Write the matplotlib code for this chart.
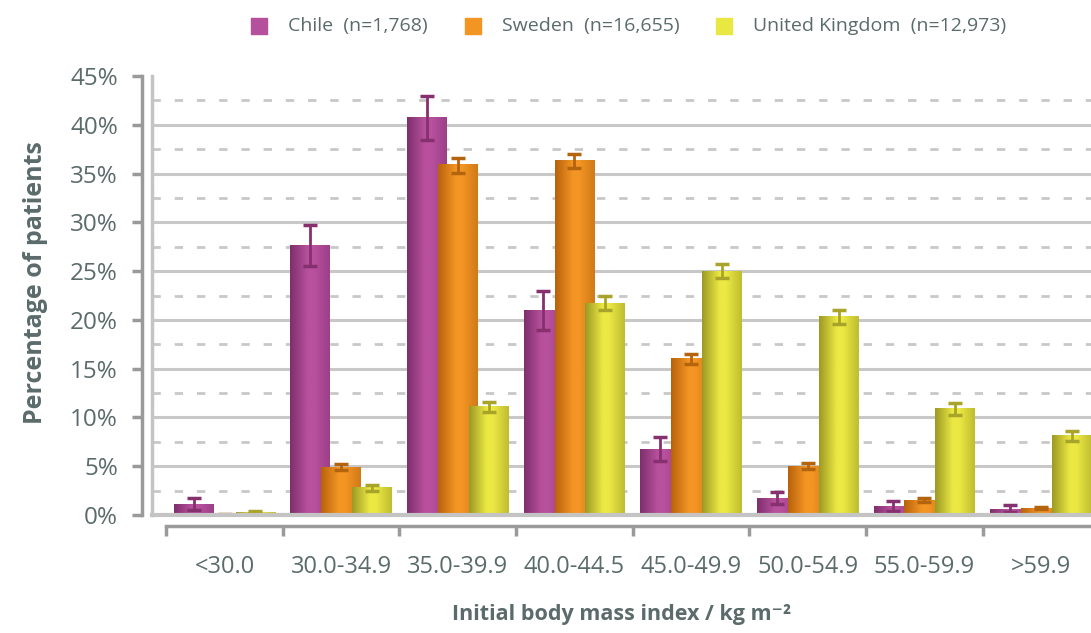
import numpy as np
import matplotlib.pyplot as plt
from matplotlib.colors import LinearSegmentedColormap

# BMI groups and share of patients (%) per country
categories = ['<30.0', '30.0-34.9', '35.0-39.9', '40.0-44.5',
              '45.0-49.9', '50.0-54.9', '55.0-59.9', '>59.9']
chile = [1.1, 27.6, 40.7, 21.0, 6.7, 1.7, 0.9, 0.6]
chile_lo = [0.5, 25.5, 38.4, 19.0, 5.5, 1.1, 0.4, 0.3]
chile_hi = [1.7, 29.7, 43.0, 23.0, 8.0, 2.4, 1.4, 1.0]
sweden = [0.1, 4.9, 35.9, 36.3, 16.0, 5.0, 1.5, 0.7]
sweden_lo = [0.05, 4.6, 35.1, 35.6, 15.5, 4.7, 1.3, 0.6]
sweden_hi = [0.15, 5.2, 36.6, 37.0, 16.5, 5.3, 1.7, 0.8]
uk = [0.3, 2.8, 11.1, 21.7, 25.0, 20.3, 10.9, 8.1]
uk_lo = [0.2, 2.5, 10.6, 21.0, 24.3, 19.6, 10.3, 7.6]
uk_hi = [0.4, 3.1, 11.6, 22.4, 25.7, 21.0, 11.5, 8.6]
series_names = ['Chile  (n=1,768)', 'Sweden  (n=16,655)', 'United Kingdom  (n=12,973)']

text_col = '#5b6b6b'
axis_col = '#9a9a9a'
grid_col = '#c8c8c8'

plt.rcParams['font.family'] = ['Open Sans', 'DejaVu Sans']

fig = plt.figure(figsize=(10.91, 6.33), dpi=100)
ax = fig.add_axes([152 / 1091, 118 / 633, 939 / 1091, 439 / 633])
ax.set_xlim(-0.622, 7.43)
ax.set_ylim(0, 45)

# grid: solid every 5 %, dashed half-steps
for v in range(5, 45, 5):
    ax.axhline(v, color=grid_col, lw=2.2, zorder=0)
for v in np.arange(2.5, 45, 5):
    ax.axhline(v, color=grid_col, lw=2, ls=(0, (3, 5)), zorder=0)
ax.axhline(0, color='#c4c4c4', lw=3, zorder=5, clip_on=False)
ax.plot([0, 0], [0, 1], transform=ax.transAxes, color='#c4c4c4', lw=2.5,
        clip_on=False, zorder=5)


def shade(dark, mid, light):
    return LinearSegmentedColormap.from_list(
        'c', [(0, dark), (0.45, light), (0.6, light), (1, mid)])


styles = [
    (chile, chile_lo, chile_hi, shade('#7e2f6c', '#9c4088', '#b9519e'), '#b5509c', '#86306f'),
    (sweden, sweden_lo, sweden_hi, shade('#b8620c', '#d07a18', '#f49624'), '#f39522', '#b5640e'),
    (uk, uk_lo, uk_hi, shade('#9d9a24', '#bfbd30', '#ece944'), '#e9e843', '#a8a42a'),
]
grad = np.linspace(0, 1, 64).reshape(1, -1)
width = 0.34
offsets = [-0.265, 0, 0.265]
x = np.arange(len(categories))

for k, (vals, lo, hi, cmap, base, ecol) in enumerate(styles):
    for i, v in enumerate(vals):
        x0 = x[i] + offsets[k] - width / 2
        ax.imshow(grad, cmap=cmap, extent=[x0, x0 + width, 0, v],
                  aspect='auto', interpolation='bicubic', zorder=2 + k)
    yerr = [np.array(vals) - np.array(lo), np.array(hi) - np.array(vals)]
    ax.errorbar(x + offsets[k], vals, yerr=yerr, fmt='none', ecolor=ecol,
                elinewidth=2, capsize=5, capthick=2.5, zorder=2 + k + 0.5)
    ax.scatter([], [], marker='s', s=140, color=base, label=series_names[k])

ax.set_xlim(-0.622, 7.43)
ax.set_ylim(0, 45)

# axes styling
for s in ['top', 'right']:
    ax.spines[s].set_visible(False)
ax.spines['left'].set_position(('outward', 7.5))
ax.spines['left'].set_bounds(0, 45)
ax.spines['left'].set_color(axis_col)
ax.spines['left'].set_linewidth(2.5)
ax.spines['bottom'].set_position(('outward', 8))
ax.spines['bottom'].set_bounds(-0.5, 7.43)
ax.spines['bottom'].set_color(axis_col)
ax.spines['bottom'].set_linewidth(2.5)

ax.set_yticks(range(0, 46, 5))
ax.set_yticklabels([f'{v}%' for v in range(0, 46, 5)])
ax.tick_params(axis='y', length=7, width=2.5, color=axis_col,
               labelcolor=text_col, labelsize=17.5, pad=10)
ax.set_xticks(np.arange(-0.5, 7.5, 1))
ax.set_xticklabels([])
ax.tick_params(axis='x', which='major', length=7, width=2.5, color=axis_col)
ax.set_xticks(x, minor=True)
ax.set_xticklabels(categories, minor=True)
ax.tick_params(axis='x', which='minor', length=0, labelcolor=text_col,
               labelsize=17, pad=21)

ax.set_ylabel('Percentage of patients', fontsize=18, fontweight='bold',
              color=text_col, labelpad=16, y=0.53)
ax.set_xlabel('Initial body mass index / kg m\u207b\u00b2', fontsize=15.5,
              fontweight='bold', color=text_col, labelpad=18)

leg = fig.legend(loc='upper center', bbox_to_anchor=(0.571, 1.0), ncol=3,
                 frameon=False, fontsize=14, handletextpad=0.5,
                 columnspacing=1.3, labelcolor=text_col)

fig.savefig('out.png', dpi=100)
